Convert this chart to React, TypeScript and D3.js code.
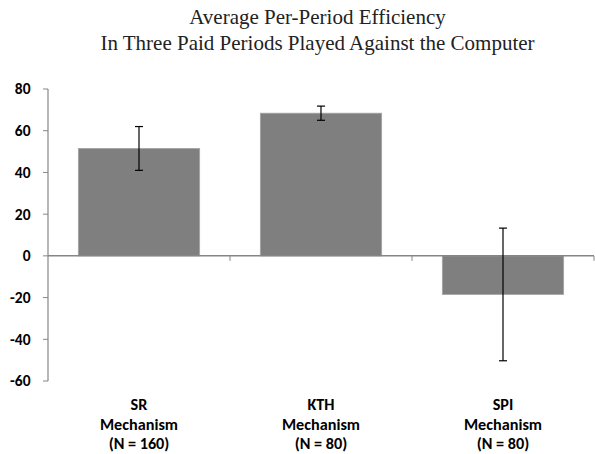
import React from "react";
import * as d3 from "d3";

const categories = ["SR", "KTH", "SPI"];
const categoryLabels = [
  ["SR", "Mechanism", "(N = 160)"],
  ["KTH", "Mechanism", "(N = 80)"],
  ["SPI", "Mechanism", "(N = 80)"],
];
const means = [51.5, 68.4, -18.5];
const errors = [10.5, 3.4, 31.8];
const yTicks = [80, 60, 40, 20, 0, -20, -40, -60];
const titleLines = [
  "Average Per-Period Efficiency",
  "In Three Paid Periods Played Against the Computer",
];

export default function App() {
  const W = 595;
  const H = 454;
  const left = 48;
  const right = 594;
  const y = d3.scaleLinear().domain([-60, 80]).range([381, 89]);
  const x = d3.scaleBand<string>().domain(categories).range([left, right]).padding(0);
  const bw = x.bandwidth() / 1.5;
  const y0 = y(0);
  const labelFont = "Carlito, Calibri, 'Liberation Sans', Arial, sans-serif";
  const axisColor = "#868686";
  const bandEdges = categories.map((c) => (x(c) as number) + x.bandwidth());

  return (
    <svg
      width={W}
      height={H}
      style={{ position: "absolute", left: 0, top: 0, background: "#fff" }}
    >
      <g fontFamily="'Liberation Serif', 'Times New Roman', serif" fontSize={21} fill="#222" textAnchor="middle">
        {titleLines.map((t, i) => (
          <text key={i} x={317.5} y={24 + i * 26}>
            {t}
          </text>
        ))}
      </g>

      {/* bars */}
      {categories.map((c, i) => {
        const cx = (x(c) as number) + x.bandwidth() / 2;
        const v = means[i];
        const top = Math.min(y(v), y0);
        const h = Math.abs(y(v) - y0);
        return (
          <rect
            key={c}
            x={cx - bw / 2}
            y={top}
            width={bw}
            height={h}
            fill="#7f7f7f"
            stroke="#a5a5a5"
            strokeWidth={0.8}
          />
        );
      })}

      {/* y axis */}
      <line x1={left} x2={left} y1={y(80)} y2={y(-60)} stroke={axisColor} strokeWidth={1.2} />
      {yTicks.map((t) => (
        <g key={t}>
          <line x1={left - 5} x2={left} y1={y(t)} y2={y(t)} stroke={axisColor} strokeWidth={1} />
          <text
            x={30.5}
            y={y(t)}
            dy="0.35em"
            textAnchor="end"
            fontFamily={labelFont}
            fontWeight="bold"
            fontSize={15.5}
            fill="#000"
          >
            {t}
          </text>
        </g>
      ))}

      {/* x axis at zero */}
      <line x1={left} x2={right} y1={y0} y2={y0} stroke={axisColor} strokeWidth={1.5} />
      {bandEdges.map((e, i) => (
        <line key={i} x1={e} x2={e} y1={y0} y2={y0 + 5} stroke={axisColor} strokeWidth={1} />
      ))}

      {/* error bars */}
      {categories.map((c, i) => {
        const cx = (x(c) as number) + x.bandwidth() / 2;
        const hi = y(means[i] + errors[i]);
        const lo = y(means[i] - errors[i]);
        return (
          <g key={c} stroke="#000" strokeWidth={1.2}>
            <line x1={cx} x2={cx} y1={hi} y2={lo} />
            <line x1={cx - 4} x2={cx + 4} y1={hi} y2={hi} />
            <line x1={cx - 4} x2={cx + 4} y1={lo} y2={lo} />
          </g>
        );
      })}

      {/* category labels */}
      {categories.map((c, i) => {
        const cx = (x(c) as number) + x.bandwidth() / 2;
        return (
          <text
            key={c}
            textAnchor="middle"
            fontFamily={labelFont}
            fontWeight="bold"
            fontSize={16.2}
            fill="#000"
          >
            {categoryLabels[i].map((l, j) => (
              <tspan key={j} x={cx} y={410 + j * 19.5}>
                {l}
              </tspan>
            ))}
          </text>
        );
      })}
    </svg>
  );
}
